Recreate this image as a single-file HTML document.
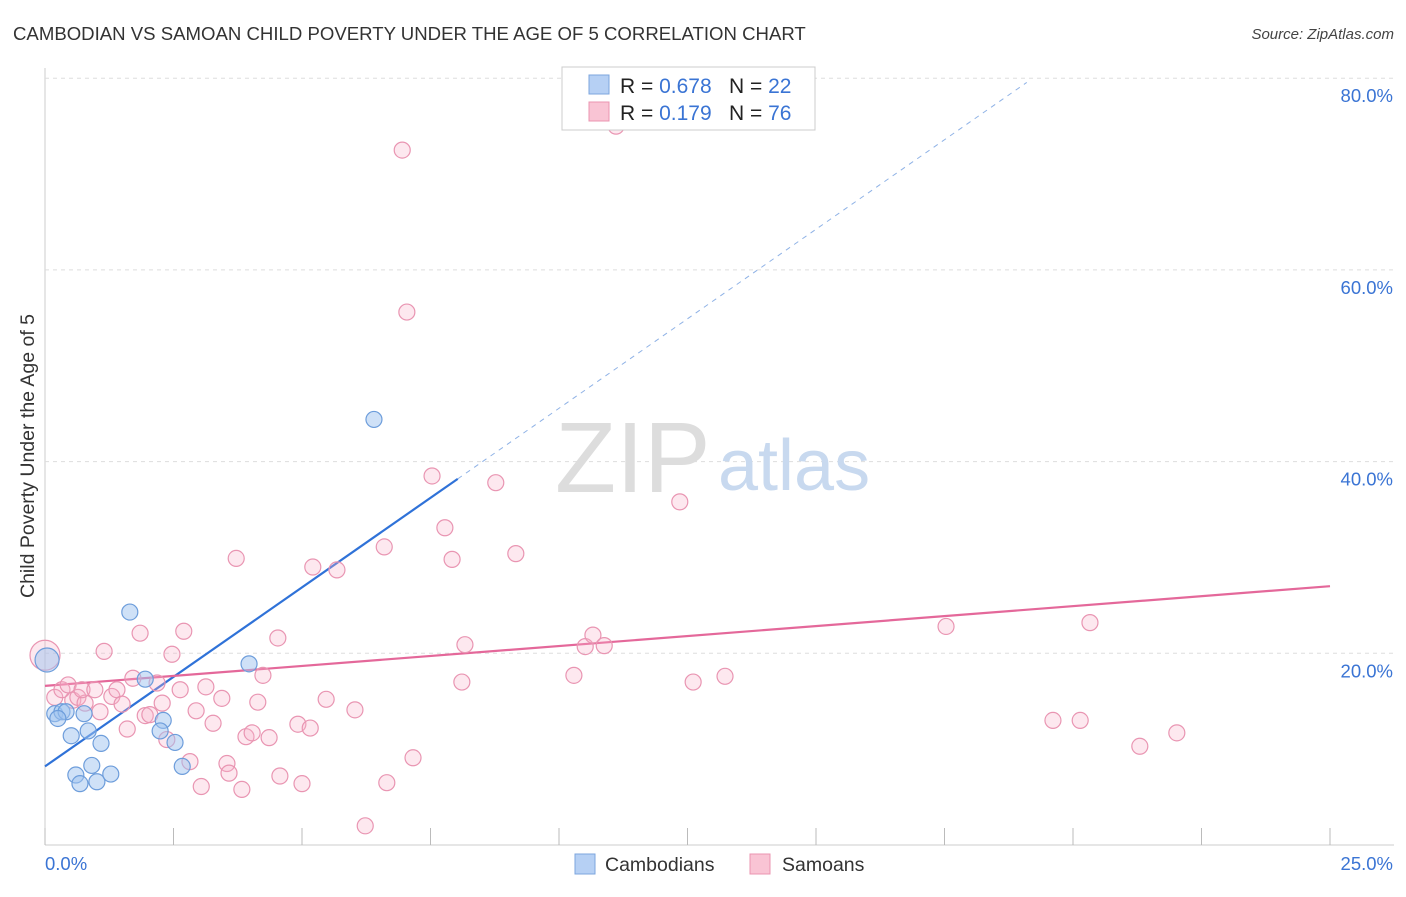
<!DOCTYPE html>
<html><head><meta charset="utf-8">
<style>
body{margin:0;background:#fff;font-family:"Liberation Sans",sans-serif;}
svg text{font-family:"Liberation Sans",sans-serif;}
</style></head>
<body>
<svg id="chart" width="1406" height="892" viewBox="0 0 1406 892">
<text x="13" y="40" font-size="18.6" fill="#333">CAMBODIAN VS SAMOAN CHILD POVERTY UNDER THE AGE OF 5 CORRELATION CHART</text>
<text x="1394" y="39" font-size="15" fill="#444" font-style="italic" text-anchor="end">Source: ZipAtlas.com</text>
<text x="0" y="0" transform="translate(34,456) rotate(-90)" font-size="19.5" fill="#333" text-anchor="middle">Child Poverty Under the Age of 5</text>
<g id="grid"></g>
<text x="555" y="492" font-size="100" font-family="Liberation Serif" fill="#ddd">ZIP</text>
<text x="718" y="490" font-size="72" fill="#c8d9ef">atlas</text>
<g id="lines"></g>
<g id="points"></g>
<g>
<rect x="562" y="67" width="253" height="63" fill="#fff" stroke="#ccc"/>
<rect x="589" y="75" width="20" height="19" fill="#b6d0f4" stroke="#7ca6de"/>
<rect x="589" y="102" width="20" height="19" fill="#f9c4d4" stroke="#eb94b0"/>
<text x="620" y="93" font-size="21" fill="#222">R = <tspan fill="#3a74d4">0.678</tspan></text>
<text x="729" y="93" font-size="21" fill="#222">N = <tspan fill="#3a74d4">22</tspan></text>
<text x="620" y="120" font-size="21" fill="#222">R = <tspan fill="#3a74d4"> 0.179</tspan></text>
<text x="729" y="120" font-size="21" fill="#222">N = <tspan fill="#3a74d4">76</tspan></text>
</g>
<g>
<rect x="575" y="854" width="20" height="20" fill="#b6d0f4" stroke="#7ca6de"/>
<text x="605" y="871" font-size="19.5" fill="#333">Cambodians</text>
<rect x="750" y="854" width="20" height="20" fill="#f9c4d4" stroke="#eb94b0"/>
<text x="782" y="871" font-size="19.5" fill="#333">Samoans</text>
</g>
<text x="45" y="870" font-size="18.5" fill="#3a74d4">0.0%</text>
<text x="1393" y="870" font-size="18.5" fill="#3a74d4" text-anchor="end">25.0%</text>
</svg>
<script>
const yTicks=[20,40,60,80];
const yTickLabels=["20.0%","40.0%","60.0%","80.0%"];
const xTicks=[0,2.5,5,7.5,10,12.5,15,17.5,20,22.5,25];
const blueX=[0.04,0.19,0.33,0.41,0.51,0.76,0.84,1.09,0.60,0.68,0.91,1.01,1.28,1.65,1.95,2.30,2.24,2.53,2.67,3.97,6.40,0.25];
const blueY=[19.3,13.7,13.9,13.9,11.4,13.7,11.9,10.6,7.3,6.4,8.3,6.6,7.4,24.3,17.3,13.0,11.9,10.7,8.2,18.9,44.4,13.2];
const pinkX=[0,0.19,0.33,0.45,0.54,0.64,0.78,0.72,0.97,1.07,1.15,1.30,1.40,1.50,1.60,1.71,1.85,1.95,2.04,2.18,2.28,2.37,2.47,2.63,2.70,2.82,2.94,3.04,3.13,3.27,3.44,3.54,3.58,3.72,3.83,3.91,4.03,4.14,4.24,4.36,4.53,4.57,4.92,5.00,5.16,5.21,5.47,5.68,6.03,6.23,6.60,6.65,6.95,7.04,7.16,7.53,7.78,7.92,8.11,8.17,8.77,9.16,10.29,10.51,10.66,10.88,11.11,12.35,12.61,13.23,17.53,19.61,20.14,20.33,21.30,22.02];
const pinkY=[19.8,15.4,16.2,16.7,15.1,15.4,14.8,16.2,16.2,13.9,20.2,15.5,16.2,14.7,12.1,17.4,22.1,13.5,13.6,16.9,14.8,11.0,19.9,16.2,22.3,8.7,14.0,6.1,16.5,12.7,15.3,8.5,7.5,29.9,5.8,11.3,11.7,14.9,17.7,11.2,21.6,7.2,12.6,6.4,12.2,29.0,15.2,28.7,14.1,2.0,31.1,6.5,72.5,55.6,9.1,38.5,33.1,29.8,17.0,20.9,37.8,30.4,17.7,20.7,21.9,20.8,75.0,35.8,17.0,17.6,22.8,13.0,13.0,23.2,10.3,11.7];
const blueFit=[8.2,38.2];
const blueFitX=[0,8.03,19.1];
const pinkFit=[16.6,27.0];

const NS="http://www.w3.org/2000/svg";
const X=v=>45+v*51.4;
const Y=v=>845-v*9.585;
function mk(tag,attrs,parent){const e=document.createElementNS(NS,tag);for(const k in attrs)e.setAttribute(k,attrs[k]);parent.appendChild(e);return e;}
const grid=document.getElementById('grid');
const axis=mk('line',{x1:45,y1:68,x2:45,y2:845,stroke:'#ccc'},grid);


const xa=mk('line',{x1:45,y1:845,x2:1394,y2:845,stroke:'#ccc'},grid);


yTicks.forEach((t,i)=>{
  const g=mk('line',{x1:45,y1:Y(t),x2:1394,y2:Y(t),stroke:'#ddd','stroke-dasharray':'4,4'},grid);
  
  
  const tx=mk('text',{x:1393,y:Y(t)+24,'font-size':18.5,fill:'#3a74d4','text-anchor':'end'},grid);
  tx.textContent=yTickLabels[i];
  
  
});
xTicks.forEach(t=>{
  const l=mk('line',{x1:X(t),y1:828,x2:X(t),y2:845,stroke:'#bbb'},grid);
  
  
});
const lines=document.getElementById('lines');
const bl=mk('line',{x1:X(blueFitX[0]),y1:Y(blueFit[0]),x2:X(blueFitX[1]),y2:Y(blueFit[1]),stroke:'#2f72d8','stroke-width':2.2},lines);


const slope=(blueFit[1]-blueFit[0])/(blueFitX[1]-blueFitX[0]);
const bd=mk('line',{x1:X(blueFitX[1]),y1:Y(blueFit[1]),x2:X(blueFitX[2]),y2:Y(blueFit[0]+slope*blueFitX[2]),stroke:'#8fb2e6','stroke-width':1,'stroke-dasharray':'5,5'},lines);


const pl=mk('line',{x1:X(0),y1:Y(pinkFit[0]),x2:X(25),y2:Y(pinkFit[1]),stroke:'#e4689a','stroke-width':2.2},lines);


const pts=document.getElementById('points');
pinkX.forEach((x,i)=>{
  const c=mk('circle',{cx:X(x),cy:Y(pinkY[i]),r:i===0?15:8,fill:'rgba(248,180,202,0.3)',stroke:'#e995b2','stroke-width':1.2},pts);
  
  
});
blueX.forEach((x,i)=>{
  const c=mk('circle',{cx:X(x),cy:Y(blueY[i]),r:i===0?12:8,fill:'rgba(160,196,240,0.5)',stroke:'#6d9ddb','stroke-width':1.2},pts);
  
  
});
</script>
</body></html>
